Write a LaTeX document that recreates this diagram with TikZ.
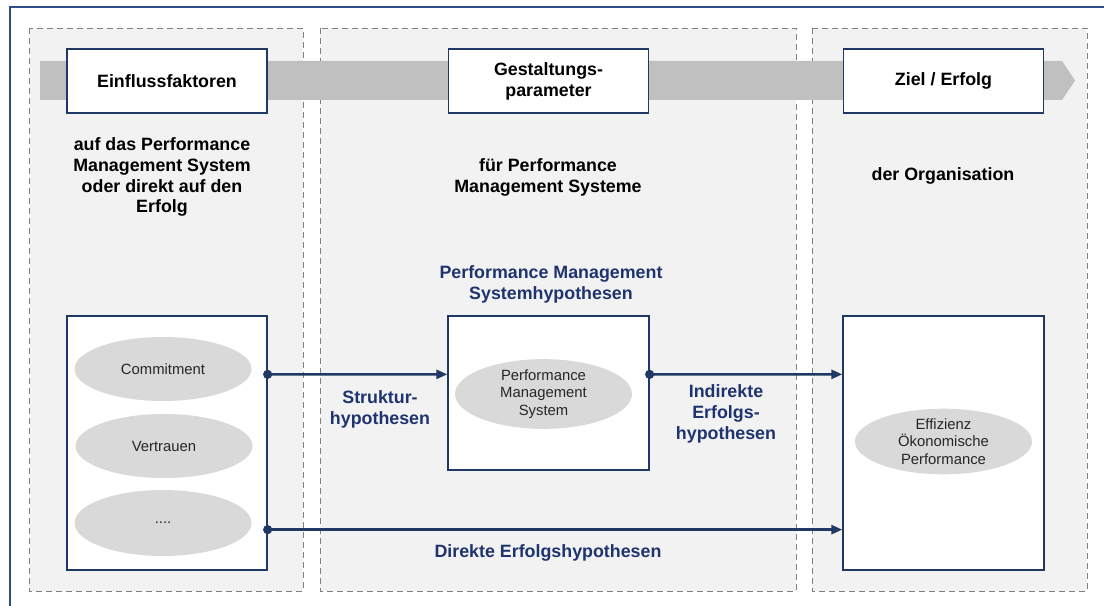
\documentclass[tikz,border=0pt]{standalone}
\usepackage{fontspec}
\setmainfont{Liberation Sans}
\usetikzlibrary{arrows.meta,shapes.geometric}

\definecolor{frameblue}{RGB}{47,75,140}
\definecolor{navy}{RGB}{31,56,100}
\definecolor{textblue}{RGB}{31,52,110}
\definecolor{panelgray}{RGB}{242,242,242}
\definecolor{dashgray}{RGB}{128,128,128}
\definecolor{bandgray}{RGB}{192,192,192}
\definecolor{ovalgray}{RGB}{217,217,217}
\definecolor{ovaltext}{RGB}{38,38,38}

\newcommand{\boldtext}{\fontsize{17.9}{21}\selectfont\bfseries}
\newcommand{\ovaltextfont}{\fontsize{14.9}{17.8}\selectfont}

\begin{document}
\begin{tikzpicture}[x=1bp,y=-1bp,
  panel/.style={fill=panelgray, draw=dashgray, dash pattern=on 6bp off 4bp, line width=0.9bp},
  headbox/.style={draw=navy, fill=white, line width=1.3bp, minimum width=200bp,
    minimum height=64bp, inner sep=0pt, font=\boldtext, align=center},
  contentbox/.style={draw=navy, fill=white, line width=1.3bp, inner sep=0pt},
  oval/.style={ellipse, fill=ovalgray, minimum width=177bp, minimum height=64bp,
    inner sep=0pt, font=\ovaltextfont, text=ovaltext, align=center},
  caption/.style={font=\boldtext, align=center, inner sep=0pt},
  hyp/.style={font=\boldtext, text=textblue, align=center, inner sep=0pt},
  conn/.style={draw=navy, line width=2.6bp, shorten <=-4.5bp,
    {Circle[length=9bp]}-{Triangle[length=11bp,width=9bp]}}
]
\useasboundingbox (0,0) rectangle (1104,606);

% outer frame (left and top edges)
\draw[frameblue, line width=1.2bp] (10,606) -- (10,7) -- (1104,7);

% three dashed panels
\draw[panel] (29,28) rectangle (303,591);
\draw[panel] (320,28) rectangle (796,591);
\draw[panel] (812,28) rectangle (1087,591);

% process band with arrow point
\fill[bandgray] (40,61) -- (1062,61) -- (1075,80.5) -- (1062,100) -- (40,100) -- cycle;

% headline boxes
\node[headbox] (einfluss) at (167,81) {Einflussfaktoren};
\node[headbox] (gestaltung) at (548.5,81) {Gestaltungs-\\parameter};
\node[headbox] (ziel) at (943.5,81) {Ziel / Erfolg};

% panel captions
\node[caption] (capleft) at (162,177) {auf das Performance\\Management System\\oder direkt auf den\\Erfolg};
\node[caption] (capmid) at (548,177) {für Performance\\Management Systeme};
\node[caption] (capright) at (943,176) {der Organisation};

% content boxes
\node[contentbox, minimum width=200bp, minimum height=254bp] (lbox) at (167,443) {};
\node[contentbox, minimum width=201bp, minimum height=154bp] (pmsbox) at (548.5,393) {};
\node[contentbox, minimum width=201bp, minimum height=254bp] (rbox) at (943.5,443) {};

% ovals
\node[oval] (commit) at (163,369) {Commitment};
\node[oval] (vertrauen) at (164,446) {Vertrauen};
\node[oval, minimum height=66bp] (more) at (163,523) {....};
\node[oval] (pms) at (543.5,394) {Performance\\Management\\System};
\node[oval, minimum height=65bp] (effizienz) at (943.5,441.5) {Effizienz\\Ökonomische\\Performance};

% hypothesis labels
\node[hyp] (pmshyp) at (551,284.5) {Performance Management\\Systemhypothesen};
\node[hyp] (struktur) at (380,409.5) {Struktur-\\hypothesen};
\node[hyp] (indirekt) at (726,414) {Indirekte\\Erfolgs-\\hypothesen};
\node[hyp] (direkt) at (548,553) {Direkte Erfolgshypothesen};

% connectors
\draw[conn] ([yshift=-59bp]lbox.north east) -- ([yshift=-59bp]pmsbox.north west);
\draw[conn] ([yshift=-59bp]pmsbox.north east) -- ([yshift=-59bp]rbox.north west);
\draw[conn] ([yshift=41bp]lbox.south east) -- ([yshift=41bp]rbox.south west);
\end{tikzpicture}
\end{document}
